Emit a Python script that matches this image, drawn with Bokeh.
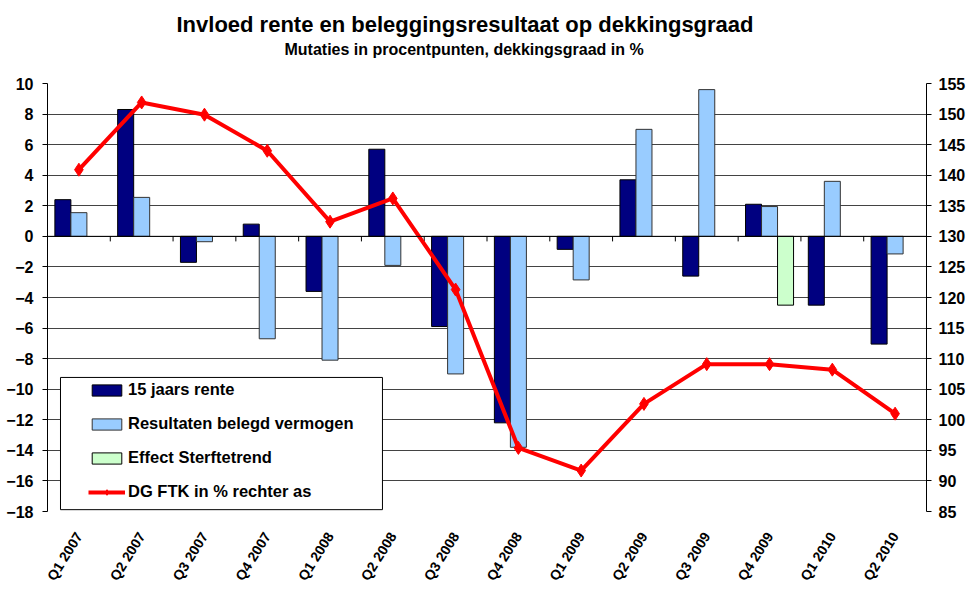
import math
from bokeh.plotting import figure
from bokeh.models import (Range1d, LinearAxis, FixedTicker, Span, Legend, LegendItem,
                          BoxAnnotation, Title)
from bokeh.embed import file_html
from bokeh.resources import INLINE

categories = ["Q1 2007", "Q2 2007", "Q3 2007", "Q4 2007", "Q1 2008", "Q2 2008", "Q3 2008",
              "Q4 2008", "Q1 2009", "Q2 2009", "Q3 2009", "Q4 2009", "Q1 2010", "Q2 2010"]
rente = [2.4, 8.3, -1.7, 0.8, -3.6, 5.7, -5.9, -12.2, -0.85, 3.7, -2.6, 2.1, -4.5, -7.05]
belegd = [1.55, 2.55, -0.35, -6.7, -8.1, -1.9, -9.0, -13.8, -2.85, 7.0, 9.6, 1.95, 3.6, -1.15]
nan = float("nan")
sterfte = [nan, nan, nan, nan, nan, nan, nan, nan, nan, nan, nan, -4.5, nan, nan]
dg_ftk = [140.9, 151.9, 149.9, 144.0, 132.4, 136.2, 121.3, 95.4, 91.7, 102.6, 109.1, 109.1, 108.2, 101.0]
left_ticks = list(range(-18, 11, 2))
right_ticks = list(range(85, 156, 5))

FONT = "Liberation Sans"
n = len(categories)
centers = [i + 0.5 for i in range(n)]
bw = 0.255

p = figure(width=968, height=590, x_range=Range1d(0, n), y_range=Range1d(-18, 10),
           output_backend="svg", toolbar_location=None, title=None,
           min_border_left=47, min_border_right=42, min_border_top=83, min_border_bottom=76)
p.outline_line_color = None
p.background_fill_color = "white"

# titles (white spacer closest to the plot, then subtitle, then main title)
spacer = Title(text=".", text_font=FONT, text_font_size="20px", standoff=9, text_color="white")
sub = Title(text="Mutaties in procentpunten, dekkingsgraad in %", align="left", offset=237,
            standoff=2, text_font=FONT, text_font_size="16px", text_font_style="bold",
            text_color="black")
main = Title(text="Invloed rente en beleggingsresultaat op dekkingsgraad", align="left", offset=129,
             standoff=2, text_font=FONT, text_font_size="22px", text_font_style="bold",
             text_color="black")
p.add_layout(spacer, "above")
p.add_layout(sub, "above")
p.add_layout(main, "above")

# bottom category axis
p.xaxis.ticker = FixedTicker(ticks=centers)
p.xaxis.major_label_overrides = {c: lab for c, lab in zip(centers, categories)}
p.xaxis.axis_line_color = None
p.xaxis.major_tick_line_color = None
p.xaxis.minor_tick_line_color = None
p.xaxis.major_label_orientation = math.radians(58)
p.xaxis.major_label_standoff = 16
p.xaxis.major_label_text_font = FONT
p.xaxis.major_label_text_font_size = "14px"
p.xaxis.major_label_text_font_style = "bold"
p.xaxis.major_label_text_color = "black"
p.xgrid.visible = False

# left axis
p.yaxis.ticker = FixedTicker(ticks=left_ticks)
p.yaxis.minor_tick_line_color = None
p.yaxis.major_tick_out = 5
p.yaxis.major_tick_in = 0
p.yaxis.axis_line_color = "black"
p.yaxis.major_tick_line_color = "black"
p.yaxis.major_label_standoff = 9
p.yaxis.major_label_text_font = FONT
p.yaxis.major_label_text_font_size = "16px"
p.yaxis.major_label_text_font_style = "bold"
p.yaxis.major_label_text_color = "black"
p.ygrid.ticker = FixedTicker(ticks=left_ticks)
p.ygrid.grid_line_color = "#222222"
p.ygrid.grid_line_alpha = 0.85

# right axis
p.extra_y_ranges = {"dg": Range1d(85, 155)}
rax = LinearAxis(y_range_name="dg", ticker=FixedTicker(ticks=right_ticks))
rax.minor_tick_line_color = None
rax.major_tick_out = 5
rax.major_tick_in = 0
rax.axis_line_color = "black"
rax.major_tick_line_color = "black"
rax.major_label_standoff = 7
rax.major_label_text_font = FONT
rax.major_label_text_font_size = "16px"
rax.major_label_text_font_style = "bold"
rax.major_label_text_color = "black"
p.add_layout(rax, "right")

# bars
r_rente = p.vbar(x=[c - bw for c in centers], width=bw, top=rente, bottom=0,
                 fill_color="#000080", line_color="black", line_width=1)
r_belegd = p.vbar(x=centers, width=bw, top=belegd, bottom=0,
                  fill_color="#99CCFF", line_color="#333333", line_width=1)
r_sterfte = p.vbar(x=[c + bw for c in centers], width=bw, top=sterfte, bottom=0,
                   fill_color="#CCFFCC", line_color="black", line_width=1)

# category axis line at zero with boundary ticks
p.add_layout(Span(location=0, dimension="width", line_color="black", line_width=1))
bounds = list(range(1, n))
p.segment(x0=bounds, y0=[0] * len(bounds), x1=bounds, y1=[-0.33] * len(bounds),
          line_color="black", line_width=1)

# DG line
r_line = p.line(x=centers, y=dg_ftk, y_range_name="dg", line_color="#FF0000", line_width=4)
r_pts = p.scatter(x=centers, y=dg_ftk, y_range_name="dg", marker="diamond", size=13,
                  fill_color="#FF0000", line_color="#FF0000")

# legend frame
box = BoxAnnotation(left=0.207, right=5.335, top=-9.23, bottom=-17.88, fill_color="white",
                    fill_alpha=1.0, line_color="black", line_width=1, line_alpha=1.0)
p.add_layout(box)

legend = Legend(items=[
    LegendItem(label="15 jaars rente", renderers=[r_rente]),
    LegendItem(label="Resultaten belegd vermogen", renderers=[r_belegd]),
    LegendItem(label="Effect Sterftetrend", renderers=[r_sterfte]),
    LegendItem(label="DG FTK in % rechter as", renderers=[r_line, r_pts]),
], location=(41, 10), orientation="vertical")
legend.border_line_color = None
legend.background_fill_alpha = 0
legend.padding = 0
legend.margin = 0
legend.spacing = 15
legend.glyph_width = 37
legend.glyph_height = 14
legend.label_height = 14
legend.label_standoff = 3
legend.label_text_font = FONT
legend.label_text_font_size = "16.5px"
legend.label_text_font_style = "bold"
legend.label_text_color = "black"
p.add_layout(legend, "center")

open("out.html", "w").write(file_html(p, INLINE))
